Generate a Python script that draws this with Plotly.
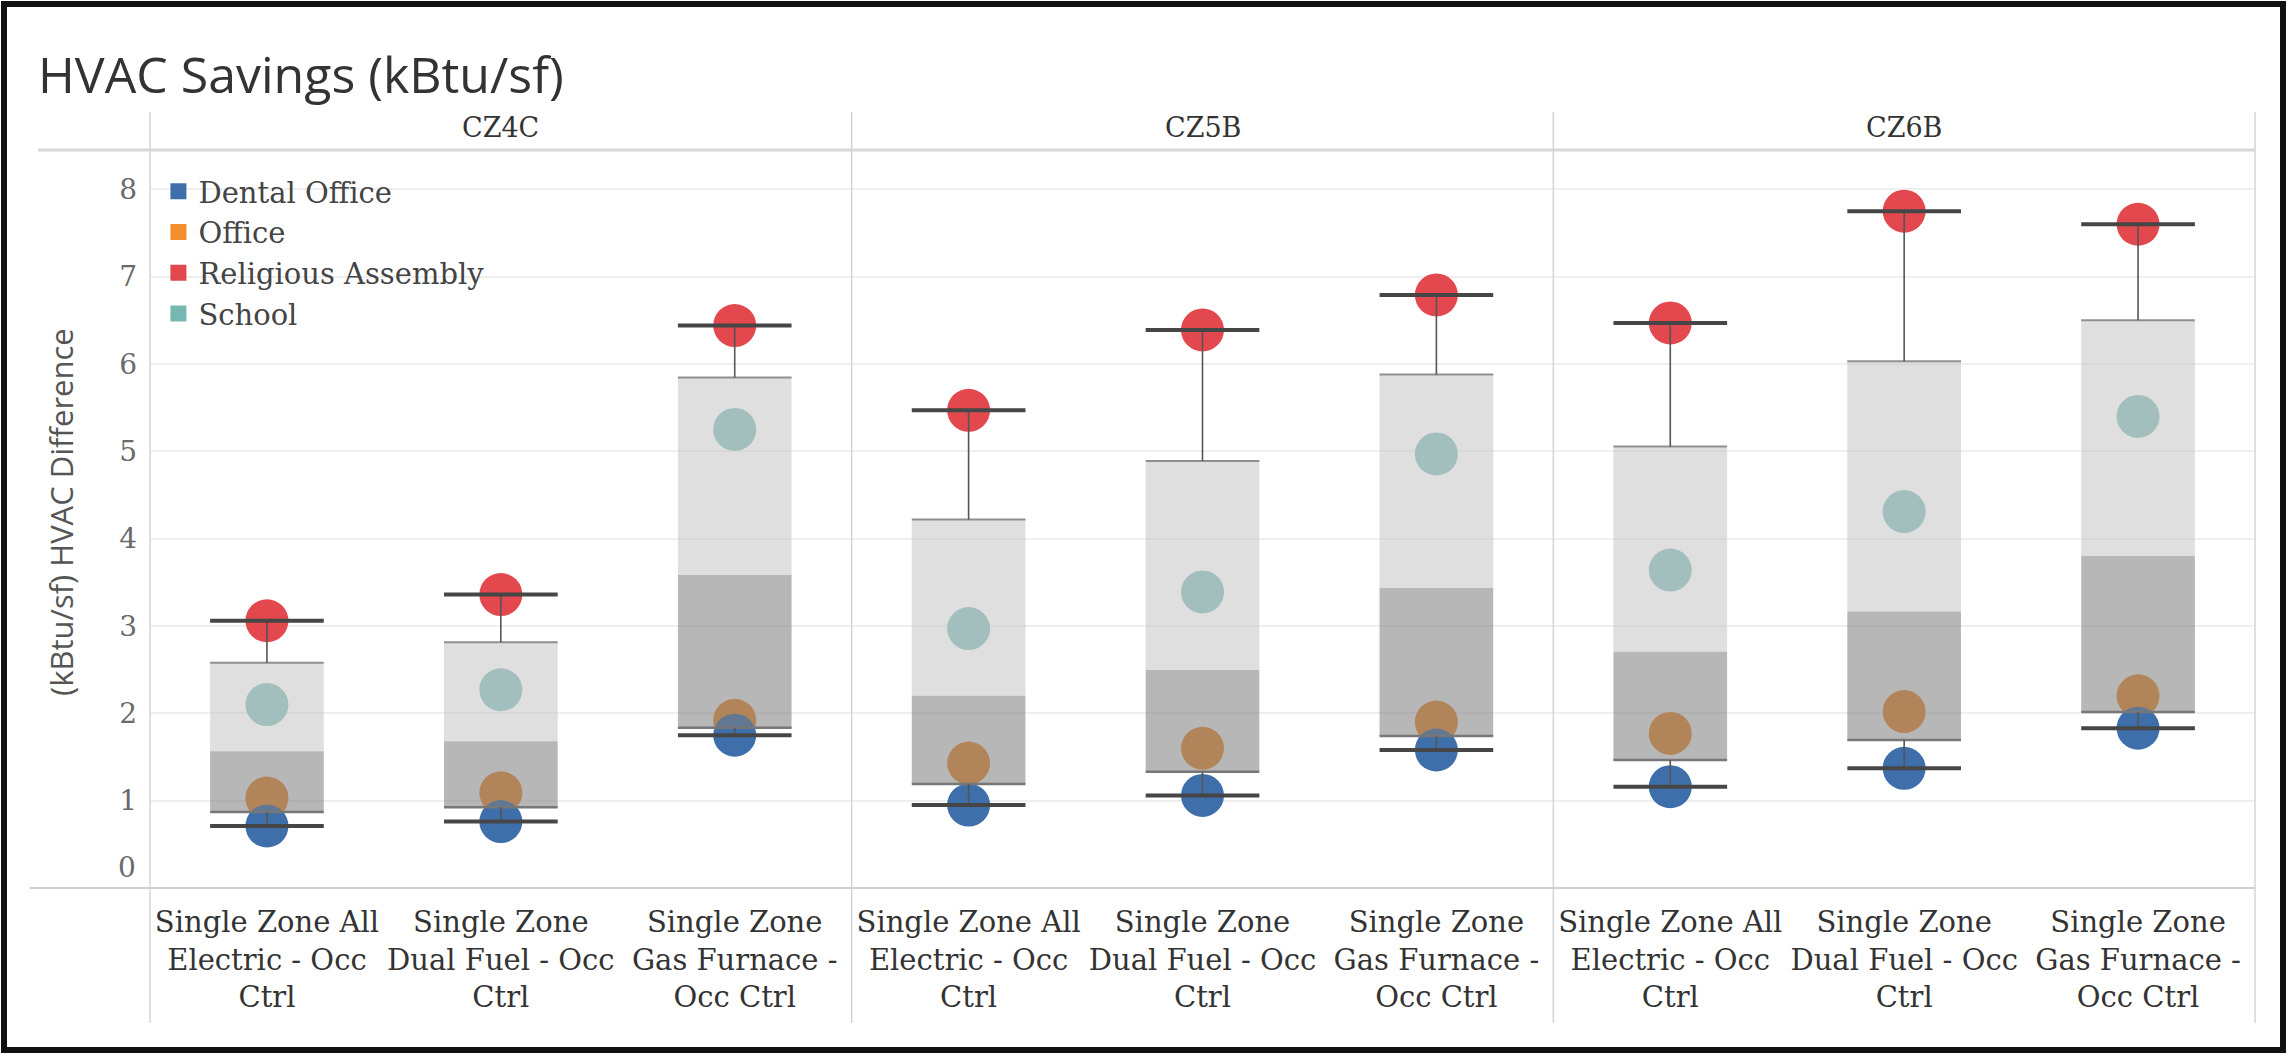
import numpy as np
import plotly.graph_objects as go
from plotly.subplots import make_subplots

# ---------------- data ----------------
zones = ["CZ4C", "CZ5B", "CZ6B"]
systems = [
    "Single Zone All<br>Electric - Occ<br>Ctrl",
    "Single Zone<br>Dual Fuel - Occ<br>Ctrl",
    "Single Zone<br>Gas Furnace -<br>Occ Ctrl",
]
building_types = ["Dental Office", "Office", "Religious Assembly", "School"]
colors = ["#3e6faa", "#f28e2b", "#e2484d", "#76b7b2"]

# values ordered zone by zone, system by system (CZ4C x3, CZ5B x3, CZ6B x3)
dental_office = [0.71, 0.76, 1.75, 0.95, 1.06, 1.58, 1.16, 1.37, 1.83]
office = [1.03, 1.09, 1.92, 1.43, 1.60, 1.90, 1.77, 2.02, 2.20]
religious_assembly = [3.06, 3.36, 6.44, 5.47, 6.39, 6.79, 6.47, 7.75, 7.60]
school = [2.10, 2.27, 5.25, 2.97, 3.39, 4.97, 3.64, 4.31, 5.40]
series = [dental_office, office, religious_assembly, school]

y_ticks = [0, 1, 2, 3, 4, 5, 6, 7, 8]
y_ticktext = ["", "1", "2", "3", "4", "5", "6", "7", "8"]  # "0" drawn nudged up, as in the original

# ---------------- geometry helpers ----------------
W, H = 2292, 1055
ML, MR, MT, MB = 150, 37, 150, 167
PW, PH = W - ML - MR, H - MT - MB


def px(xp):
    return (xp - ML) / PW


def py(yp):
    return 1 - (yp - MT) / PH


def quart(vals):
    s = sorted(vals)
    n = len(s)
    lower = s[: n // 2]
    upper = s[(n + 1) // 2:]
    return min(s), float(np.median(lower)), float(np.median(s)), float(np.median(upper)), max(s)


fig = make_subplots(rows=1, cols=3, shared_yaxes=True, horizontal_spacing=0)

half = 0.243
draw_order = [3, 2, 1, 0]  # School, Religious, Office, Dental (dental on top)

for zi, zone in enumerate(zones):
    col = zi + 1
    xs = np.arange(len(systems))
    # points
    for bi in draw_order:
        vals = series[bi][zi * 3: zi * 3 + 3]
        fig.add_trace(
            go.Scatter(
                x=xs, y=vals, mode="markers",
                marker=dict(size=43, color=colors[bi], line=dict(width=0)),
                name=building_types[bi], showlegend=False,
                hovertemplate=building_types[bi] + ": %{y}<extra></extra>",
            ),
            row=1, col=col,
        )
    # box stats
    lo_x, lo_y, hi_x, hi_y = [], [], [], []
    cap_x, cap_y, stem_x, stem_y = [], [], [], []
    q1e_x, q1e_y, q3e_x, q3e_y = [], [], [], []
    for si in range(len(systems)):
        vals = [s[zi * 3 + si] for s in series]
        mn, q1, med, q3, mx = quart(vals)
        x0, x1 = xs[si] - half, xs[si] + half
        lo_x += [x0, x1, x1, x0, x0, None]
        lo_y += [q1, q1, med, med, q1, None]
        hi_x += [x0, x1, x1, x0, x0, None]
        hi_y += [med, med, q3, q3, med, None]
        cap_x += [x0, x1, None, x0, x1, None]
        cap_y += [mn, mn, None, mx, mx, None]
        stem_x += [xs[si], xs[si], None, xs[si], xs[si], None]
        stem_y += [q3, mx, None, mn, q1, None]
        q1e_x += [x0, x1, None]
        q1e_y += [q1, q1, None]
        q3e_x += [x0, x1, None]
        q3e_y += [q3, q3, None]
    fig.add_trace(go.Scatter(x=hi_x, y=hi_y, mode="lines", fill="toself",
                             fillcolor="rgba(198,198,198,0.56)", line=dict(width=0),
                             showlegend=False, hoverinfo="skip"), row=1, col=col)
    fig.add_trace(go.Scatter(x=lo_x, y=lo_y, mode="lines", fill="toself",
                             fillcolor="rgba(126,126,126,0.56)", line=dict(width=0),
                             showlegend=False, hoverinfo="skip"), row=1, col=col)
    fig.add_trace(go.Scatter(x=q3e_x, y=q3e_y, mode="lines",
                             line=dict(color="#8f8f8f", width=2),
                             showlegend=False, hoverinfo="skip"), row=1, col=col)
    fig.add_trace(go.Scatter(x=q1e_x, y=q1e_y, mode="lines",
                             line=dict(color="#777777", width=2.5),
                             showlegend=False, hoverinfo="skip"), row=1, col=col)
    fig.add_trace(go.Scatter(x=stem_x, y=stem_y, mode="lines",
                             line=dict(color="#555555", width=1.6),
                             showlegend=False, hoverinfo="skip"), row=1, col=col)
    fig.add_trace(go.Scatter(x=cap_x, y=cap_y, mode="lines",
                             line=dict(color="#464646", width=4),
                             showlegend=False, hoverinfo="skip"), row=1, col=col)

    fig.update_xaxes(
        row=1, col=col, range=[-0.5, len(systems) - 0.5],
        tickvals=list(xs), ticktext=systems, showgrid=False, zeroline=False,
        showline=False, ticks="", ticklabelstandoff=14,
        tickfont=dict(family="DejaVu Serif", size=29, color="#333333"),
    )

# legend entries (squares)
for bi, name in enumerate(building_types):
    fig.add_trace(go.Scatter(x=[None], y=[None], mode="markers", name=name,
                             marker=dict(symbol="square", size=16, color=colors[bi]),
                             showlegend=True), row=1, col=1)

fig.update_yaxes(
    range=[0, 8.45], tickvals=y_ticks, ticktext=y_ticktext, showgrid=True, gridcolor="#efefef",
    gridwidth=1.5, zeroline=False, showline=False, ticks="",
    tickfont=dict(family="DejaVu Serif", size=28, color="#6a6a6a"),
    ticklabelstandoff=12,
)

shapes = []
line_gray = "#d4d4d4"
# panel dividers
for k in range(len(zones) + 1):
    shapes.append(dict(type="line", xref="paper", yref="paper",
                       x0=k / len(zones), x1=k / len(zones), y0=py(1023), y1=py(112),
                       line=dict(color=line_gray, width=1.5)))
# header line and bottom axis line
shapes.append(dict(type="line", xref="paper", yref="paper", x0=px(38), x1=1,
                   y0=py(150), y1=py(150), line=dict(color="#d8d8d8", width=3)))
shapes.append(dict(type="line", xref="paper", yref="paper", x0=px(30), x1=1,
                   y0=0, y1=0, line=dict(color="#cfcfcf", width=2)))
# outer frame
shapes.append(dict(type="rect", xref="paper", yref="paper", x0=px(4), x1=px(2283),
                   y0=py(1050), y1=py(4), line=dict(color="#111111", width=6)))

annotations = []
for zi, zone in enumerate(zones):
    annotations.append(dict(text=zone, xref="paper", yref="paper",
                            x=(zi + 0.5) / len(zones), y=py(127), showarrow=False,
                            xanchor="center", yanchor="middle",
                            font=dict(family="DejaVu Serif", size=27, color="#333333")))
annotations.append(dict(text="(kBtu/sf) HVAC Difference", xref="paper", yref="paper",
                        x=px(61), y=py(512), showarrow=False, textangle=-90,
                        xanchor="center", yanchor="middle",
                        font=dict(family="Open Sans", size=31, color="#555555")))
# zero tick label nudged up inside the axis band
annotations.append(dict(text=str(y_ticks[0]), xref="paper", yref="y", x=0, y=y_ticks[0],
                        xanchor="right", yanchor="middle", xshift=-12, yshift=21,
                        showarrow=False,
                        font=dict(family="DejaVu Serif", size=28, color="#6a6a6a")))

fig.update_layout(
    width=W, height=H,
    margin=dict(l=ML, r=MR, t=MT, b=MB),
    paper_bgcolor="white", plot_bgcolor="white",
    title=dict(text="HVAC Savings (kBtu/sf)", x=38 / W, xref="container", xanchor="left",
               y=1 - 75 / H, yref="container", yanchor="middle",
               font=dict(family="Open Sans", size=50, color="#333333")),
    legend=dict(x=0.004, y=py(166), xanchor="left", yanchor="top",
                bgcolor="rgba(0,0,0,0)", font=dict(family="DejaVu Serif", size=29, color="#444444"),
                itemsizing="trace", tracegroupgap=0),
    shapes=shapes, annotations=annotations,
    showlegend=True,
)

fig.write_html("out.html", config={"displayModeBar": False},
               post_script="document.body.style.margin='0';")
